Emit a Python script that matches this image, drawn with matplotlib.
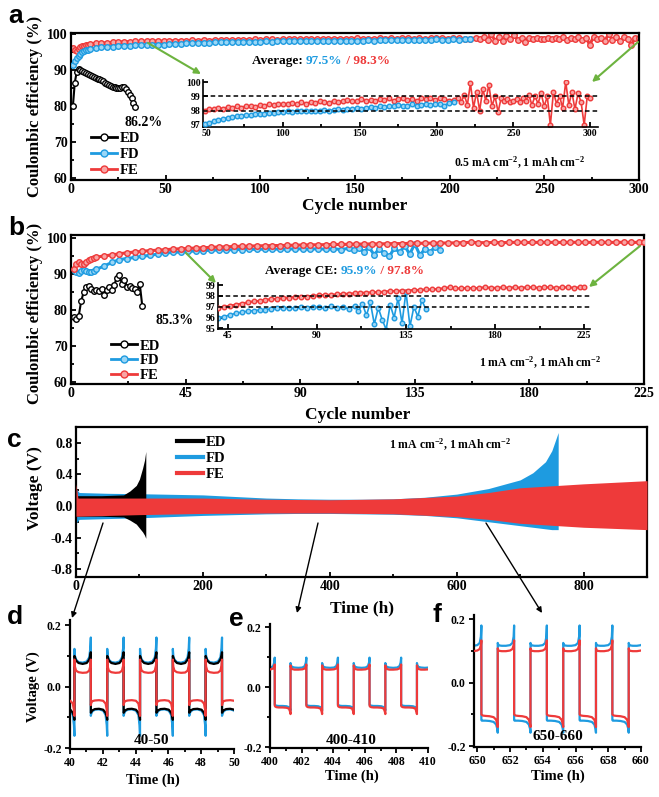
import matplotlib
matplotlib.use('Agg')
import matplotlib.pyplot as plt
from matplotlib.ticker import MultipleLocator
from matplotlib.patches import FancyArrowPatch
from matplotlib.lines import Line2D

plt.rcParams.update({
    'font.family': ['Liberation Serif', 'DejaVu Serif'],
    'font.weight': 'bold',
    'axes.labelweight': 'bold',
    'mathtext.fontset': 'custom',
    'mathtext.rm': 'Liberation Serif:bold',
    'mathtext.it': 'Liberation Serif:bold',
    'mathtext.bf': 'Liberation Serif:bold',
    'mathtext.default': 'rm',
    'axes.unicode_minus': False,
})

# ---------------- data: panel a (0.5 mA cm-2) ----------------
a_ed_cyc = list(range(1, 35))
a_ed = [80.0, 86.5, 89.5, 90.3, 90.0, 89.8, 89.5, 89.2, 89.0, 88.6,
        88.3, 88.0, 87.8, 87.6, 87.5, 87.2, 86.9, 86.5, 86.2, 86.0,
        85.7, 85.4, 85.2, 85.1, 85.0, 85.1, 85.3, 85.2, 84.8, 84.0,
        83.2, 82.2, 81.0, 79.7]

a_fd_cyc = list(range(1, 11)) + list(range(13, 212, 3))
a_fd = [91.5, 92.5, 93.3, 94.0, 94.5, 94.9, 95.2, 95.5, 95.7, 95.9,
        96.1, 96.3, 96.4, 96.55, 96.65, 96.75, 96.8, 96.85, 96.9, 96.92,
        96.95, 97.0, 97.05, 97.15, 97.25, 97.35, 97.45, 97.5, 97.55, 97.6,
        97.65, 97.7, 97.7, 97.75, 97.8, 97.8, 97.85, 97.85, 97.9, 97.9,
        97.95, 97.9, 97.95, 98.0, 97.95, 98.0, 97.95, 98.0, 98.05, 98.0,
        98.05, 98.1, 98.05, 98.15, 98.1, 98.2, 98.15, 98.2, 98.25, 98.2,
        98.3, 98.25, 98.35, 98.3, 98.4, 98.35, 98.3, 98.45, 98.35, 98.4,
        98.5, 98.4, 98.45, 98.5, 98.35, 98.55, 98.6]

a_fe_cyc = list(range(1, 11)) + list(range(13, 212, 3)) + list(range(214, 301, 2))
a_fe = [96.2, 95.5, 95.3, 95.8, 96.3, 96.6, 96.8, 97.0, 97.1, 97.2,
        97.4, 97.5, 97.6, 97.7, 97.8, 97.85, 97.9, 97.95, 98.0, 98.0,
        98.05, 98.1, 98.0, 98.15, 98.1, 98.2, 98.15, 98.25, 98.2, 98.3,
        98.2, 98.35, 98.3, 98.25, 98.4, 98.35, 98.45, 98.4, 98.5, 98.45,
        98.5, 98.55, 98.45, 98.6, 98.5, 98.6, 98.55, 98.65, 98.6, 98.55,
        98.7, 98.6, 98.7, 98.75, 98.65, 98.7, 98.8, 98.7, 98.75, 98.65,
        98.8, 98.75, 98.85, 98.7, 98.8, 98.9, 98.75, 98.8, 98.7, 98.85,
        98.8, 98.9, 98.75, 98.85, 98.8, 98.7, 98.75,
        98.9, 98.6, 99.1, 98.4, 99.9, 98.2, 99.3, 98.0, 99.5, 98.7,
        99.8, 98.3, 99.0, 97.9, 98.9, 98.7, 98.8, 98.6, 98.7, 98.8,
        98.6, 98.9, 98.7, 99.1, 98.4, 99.0, 98.5, 99.2, 98.3, 99.0,
        97.0, 99.3, 98.5, 99.0, 98.2, 100.0, 98.4, 99.3, 98.1, 99.2,
        98.6, 97.0, 99.0, 98.9]

# ---------------- data: panel b (1 mA cm-2) ----------------
b_ed_cyc = list(range(1, 29))
b_ed = [78.0, 77.5, 78.2, 82.5, 85.0, 86.5, 86.8, 85.8, 85.3, 85.5,
        85.2, 85.9, 84.3, 85.6, 86.3, 85.5, 87.0, 89.0, 89.8, 87.2,
        88.3, 86.5, 86.8, 86.0, 85.8, 85.0, 87.3, 81.0]

b_fd_cyc = list(range(1, 11)) + list(range(13, 110, 3)) + list(range(111, 146, 2))
b_fd = [91.0, 90.6, 90.3, 90.8, 91.2, 90.9, 90.6, 90.5, 90.9, 91.3,
        92.2, 93.2, 94.0, 94.3, 94.6, 94.9, 95.2, 95.5, 95.8, 96.0,
        96.1, 96.25, 96.4, 96.5, 96.6, 96.65, 96.7, 96.75, 96.8, 96.85,
        96.85, 96.9, 96.85, 96.95, 96.9, 97.0, 96.95, 96.85, 97.05, 96.85,
        97.0, 96.8, 97.1,
        96.6, 97.3, 96.2, 97.4, 95.4, 96.9, 95.8, 94.9, 97.2, 96.0,
        97.8, 95.5, 98.4, 95.2, 97.0, 96.1, 97.6, 96.8]

b_fe_cyc = list(range(1, 11)) + list(range(13, 224, 3)) + [225]
b_fe = [91.5, 92.8, 93.2, 92.8, 92.9, 93.4, 93.8, 94.1, 94.4, 94.7,
        95.0, 95.3, 95.6, 95.9, 96.1, 96.3, 96.5, 96.6, 96.75, 96.9,
        97.0, 97.1, 97.2, 97.3, 97.4, 97.5, 97.55, 97.65, 97.7, 97.75,
        97.8, 97.85, 97.9, 97.9, 97.95, 98.0, 98.05, 98.1, 98.1, 98.15,
        98.2, 98.2, 98.25, 98.3, 98.3, 98.35, 98.35, 98.4, 98.45, 98.45,
        98.5, 98.5, 98.55, 98.55, 98.6, 98.6, 98.65, 98.7, 98.8, 98.7,
        98.7, 98.75, 98.7, 98.75, 98.8, 98.75, 98.75, 98.8, 98.75, 98.8,
        98.75, 98.8, 98.8, 98.75, 98.8, 98.8, 98.75, 98.8, 98.8, 98.75,
        98.8, 98.8]

# ---------------- data: panel c (voltage envelopes) ----------------
c_ed_t = [0, 40, 75, 85, 95, 100, 105, 108, 110]
c_ed_up = [0.13, 0.13, 0.14, 0.19, 0.26, 0.34, 0.48, 0.58, 0.69]
c_ed_lo = [-0.13, -0.13, -0.14, -0.18, -0.23, -0.28, -0.33, -0.37, -0.41]
c_fd_t = [0, 5, 50, 100, 200, 250, 300, 350, 400, 450, 500, 550, 600, 650, 700, 720, 740, 750, 760]
c_fd_up = [0.22, 0.17, 0.16, 0.155, 0.14, 0.12, 0.10, 0.09, 0.085, 0.085, 0.09, 0.11, 0.15, 0.22, 0.33, 0.42, 0.56, 0.70, 0.93]
c_fd_lo = [-0.22, -0.17, -0.16, -0.15, -0.12, -0.11, -0.10, -0.095, -0.095, -0.10, -0.105, -0.12, -0.15, -0.20, -0.25, -0.27, -0.29, -0.30, -0.30]
c_fe_t = [0, 3, 100, 200, 300, 400, 500, 600, 650, 700, 800, 900]
c_fe_up = [0.28, 0.10, 0.10, 0.10, 0.085, 0.078, 0.09, 0.125, 0.17, 0.23, 0.28, 0.32]
c_fe_lo = [-0.13, -0.13, -0.11, -0.095, -0.09, -0.09, -0.10, -0.135, -0.17, -0.22, -0.27, -0.30]

# ---------------- data: panels d/e/f (one half-cycle profile, read per panel) ----------------
half_frac = [0, 0.03, 0.1, 0.25, 0.5, 0.75, 0.9, 0.97, 1.0]
d_edges = [39.27, 40.27, 41.27, 42.27, 43.27, 44.27, 45.27, 46.27, 47.27, 48.27, 49.27, 50.27]
d_first = 'neg'
d_ed_pos = [0.100, 0.095, 0.085, 0.077, 0.074, 0.077, 0.088, 0.102, 0.112]
d_ed_neg = [-0.085, -0.082, -0.077, -0.073, -0.072, -0.075, -0.085, -0.098, -0.108]
d_fd_pos = [0.123, 0.100, 0.088, 0.080, 0.078, 0.082, 0.095, 0.125, 0.160]
d_fd_neg = [-0.095, -0.088, -0.080, -0.075, -0.074, -0.078, -0.092, -0.125, -0.160]
d_fe_pos = [0.088, 0.065, 0.052, 0.047, 0.045, 0.046, 0.052, 0.068, 0.088]
d_fe_neg = [-0.060, -0.052, -0.047, -0.045, -0.044, -0.046, -0.055, -0.075, -0.095]

e_edges = [399.3, 400.3, 401.3, 402.3, 403.3, 404.3, 405.3, 406.3, 407.3, 408.3, 409.3, 410.3]
e_first = 'pos'
e_fd_pos = [0.080, 0.072, 0.067, 0.065, 0.064, 0.065, 0.070, 0.082, 0.098]
e_fd_neg = [-0.058, -0.060, -0.062, -0.063, -0.063, -0.064, -0.067, -0.072, -0.078]
e_fe_pos = [0.072, 0.065, 0.060, 0.058, 0.058, 0.059, 0.062, 0.068, 0.075]
e_fe_neg = [-0.062, -0.065, -0.067, -0.068, -0.068, -0.069, -0.072, -0.082, -0.090]

f_edges = [649.25, 650.25, 651.25, 652.25, 653.25, 654.25, 655.25, 656.25, 657.25, 658.25, 659.25, 660.25]
f_first = 'pos'
f_fd_pos = [0.125, 0.120, 0.117, 0.116, 0.116, 0.118, 0.125, 0.145, 0.180]
f_fd_neg = [-0.118, -0.120, -0.120, -0.120, -0.121, -0.124, -0.132, -0.145, -0.158]
f_fe_pos = [0.108, 0.102, 0.100, 0.099, 0.099, 0.101, 0.106, 0.118, 0.133]
f_fe_neg = [-0.100, -0.102, -0.104, -0.105, -0.106, -0.109, -0.117, -0.130, -0.140]

series_names = ['ED', 'FD', 'FE']

# ---------------- styles ----------------
BLACK = '#000000'
BLUE = '#1E9BE0'
BLUE_L = '#9AD6F6'
RED = '#EE3A3A'
RED_L = '#F8A5A5'
GREEN = '#6DB33F'

W, H = 659, 797
fig = plt.figure(figsize=(W / 100, H / 100), dpi=100)


def box(l, t, r, b):
    return [l / W, 1 - b / H, (r - l) / W, (b - t) / H]


def fpt(x, y):
    return (x / W, 1 - y / H)


def style(ax, xmaj, xmin, ymaj, ymin, lsize=10, spw=1.6, inset=False, direction='in'):
    for s in ['top', 'right', 'left', 'bottom']:
        ax.spines[s].set_linewidth(spw)
    if inset:
        ax.spines['top'].set_visible(False)
        ax.spines['right'].set_visible(False)
    ax.xaxis.set_major_locator(MultipleLocator(xmaj))
    ax.yaxis.set_major_locator(MultipleLocator(ymaj))
    if xmin:
        ax.xaxis.set_minor_locator(MultipleLocator(xmin))
    if ymin:
        ax.yaxis.set_minor_locator(MultipleLocator(ymin))
    ax.tick_params(which='both', direction=direction, top=False, right=False,
                   width=1.3, labelsize=lsize, pad=2.5)
    ax.tick_params(which='major', length=3.5)
    ax.tick_params(which='minor', length=2)


def mk(color, face, ms=4.0, lw=2.2):
    return dict(color=color, marker='o', mfc=face, mec=color, ms=ms, mew=1.0, lw=lw)


def build(edges, first, pos, neg):
    t, v = [], []
    sign = first
    for i in range(len(edges) - 1):
        t0, t1 = edges[i], edges[i + 1]
        shape = pos if sign == 'pos' else neg
        for fr, s in zip(half_frac, shape):
            t.append(t0 + fr * (t1 - t0))
            v.append(s)
        sign = 'neg' if sign == 'pos' else 'pos'
    return t, v


renderer = fig.canvas.get_renderer()


def colored_text(x, y_center, parts, fs):
    base = y_center + 0.32 * fs * 100 / 72
    full = ''
    bar = fig.text(0, 0, '|', fontsize=fs)
    wbar = bar.get_window_extent(renderer).width
    bar.remove()
    for s, c in parts:
        off = 0
        if full:
            tt = fig.text(0, 0, full + '|', fontsize=fs)
            off = tt.get_window_extent(renderer).width - wbar
            tt.remove()
        fig.text((x + off) / W, 1 - base / H, s, color=c, fontsize=fs,
                 ha='left', va='baseline')
        full += s


def legend_handles(kind, ms=5):
    if kind == 'marker':
        return [Line2D([], [], **mk(BLACK, 'white', ms, 2)),
                Line2D([], [], **mk(BLUE, BLUE_L, ms, 2)),
                Line2D([], [], **mk(RED, RED_L, ms, 2))]
    return [Line2D([], [], color=BLACK, lw=3),
            Line2D([], [], color=BLUE, lw=3),
            Line2D([], [], color=RED, lw=3)]


# ---------------- panel a ----------------
axA = fig.add_axes(box(71, 33, 639, 180))
axA.plot(a_fe_cyc, a_fe, zorder=2, **mk(RED, RED_L))
axA.plot(a_fd_cyc, a_fd, zorder=3, **mk(BLUE, BLUE_L))
axA.plot(a_ed_cyc, a_ed, zorder=4, **mk(BLACK, 'white', 4.0, 1.5))
axA.set_xlim(0, 300)
axA.set_ylim(59.5, 100.3)
style(axA, 50, 25, 10, 5)
axA.legend(legend_handles('marker'), series_names, loc='upper left',
           bbox_to_anchor=(0.035, 0.33), frameon=False, fontsize=10.5,
           handlelength=1.8, handletextpad=0.15, labelspacing=0.2,
           borderpad=0, borderaxespad=0, numpoints=1)

axAi = fig.add_axes(box(203, 80, 598, 127))
axAi.patch.set_alpha(0)
axAi.plot(a_fe_cyc, a_fe, zorder=2, **mk(RED, RED_L, 3.3, 1.2))
axAi.plot(a_fd_cyc, a_fd, zorder=3, **mk(BLUE, BLUE_L, 3.3, 1.2))
axAi.axhline(98, color='k', lw=1.1, ls=(0, (3, 2)), zorder=4)
axAi.axhline(99, color='k', lw=1.1, ls=(0, (3, 2)), zorder=4)
axAi.set_xlim(48, 305)
axAi.set_ylim(96.86, 100.14)
style(axAi, 50, 25, 1, None, lsize=7, spw=1.2, inset=True)
axAi.tick_params(which='both', pad=1.5)

# ---------------- panel b ----------------
axB = fig.add_axes(box(71, 235, 644, 384))
axB.plot(b_fd_cyc, b_fd, zorder=2, **mk(BLUE, BLUE_L))
axB.plot(b_fe_cyc, b_fe, zorder=3, **mk(RED, RED_L))
axB.plot(b_ed_cyc, b_ed, zorder=4, **mk(BLACK, 'white', 4.0, 1.5))
axB.set_xlim(0, 225)
axB.set_ylim(59.44, 100.83)
style(axB, 45, 22.5, 10, 5)
axB.legend(legend_handles('marker'), series_names, loc='upper left',
           bbox_to_anchor=(0.07, 0.30), frameon=False, fontsize=10.5,
           handlelength=1.8, handletextpad=0.15, labelspacing=0.12,
           borderpad=0, borderaxespad=0, numpoints=1)

axBi = fig.add_axes(box(218, 283, 590, 329))
axBi.patch.set_alpha(0)
axBi.plot(b_fd_cyc, b_fd, zorder=2, **mk(BLUE, BLUE_L, 3.3, 1.2))
axBi.plot(b_fe_cyc, b_fe, zorder=3, **mk(RED, RED_L, 3.3, 1.6))
axBi.axhline(97, color='k', lw=1.1, ls=(0, (3, 2)), zorder=4)
axBi.axhline(98, color='k', lw=1.1, ls=(0, (3, 2)), zorder=4)
axBi.set_xlim(40, 228)
axBi.set_ylim(94.95, 99.2)
style(axBi, 45, 22.5, 1, None, lsize=7, spw=1.2, inset=True)
axBi.tick_params(which='both', pad=1.5)

# ---------------- panel c ----------------
axC = fig.add_axes(box(76, 427, 647, 577))
axC.fill_between(c_fd_t, c_fd_lo, c_fd_up, color=BLUE, lw=0, zorder=2)
axC.fill_between(c_ed_t, c_ed_lo, c_ed_up, color=BLACK, lw=0, zorder=3)
axC.fill_between(c_fe_t, c_fe_lo, c_fe_up, color=RED, lw=0, zorder=4)
axC.set_xlim(0, 900)
axC.set_ylim(-0.9, 1.0)
style(axC, 200, 100, 0.4, 0.2)
axC.legend(legend_handles('line'), series_names, loc='upper left',
           bbox_to_anchor=(0.177, 0.94), frameon=False, fontsize=10.5,
           handlelength=1.8, handletextpad=0.2, labelspacing=0.2,
           borderpad=0, borderaxespad=0)

# ---------------- panels d, e, f ----------------
axD = fig.add_axes(box(70, 620, 234, 749))
for pos, neg, col, z in [(d_fd_pos, d_fd_neg, BLUE, 2), (d_ed_pos, d_ed_neg, BLACK, 3),
                         (d_fe_pos, d_fe_neg, RED, 4)]:
    t, v = build(d_edges, d_first, pos, neg)
    axD.plot(t, v, color=col, lw=1.6, zorder=z)
axD.set_xlim(40, 50)
axD.set_ylim(-0.203, 0.217)

axE = fig.add_axes(box(270, 624, 428, 748))
for pos, neg, col, z in [(e_fd_pos, e_fd_neg, BLUE, 2), (e_fe_pos, e_fe_neg, RED, 4)]:
    t, v = build(e_edges, e_first, pos, neg)
    axE.plot(t, v, color=col, lw=1.6, zorder=z)
axE.set_xlim(400, 410)
axE.set_ylim(-0.203, 0.21)

axF = fig.add_axes(box(474, 615, 641, 747))
for pos, neg, col, z in [(f_fd_pos, f_fd_neg, BLUE, 2), (f_fe_pos, f_fe_neg, RED, 4)]:
    t, v = build(f_edges, f_first, pos, neg)
    axF.plot(t, v, color=col, lw=1.6, zorder=z)
axF.set_xlim(649.8, 660)
axF.set_ylim(-0.203, 0.213)

for ax in (axD, axE, axF):
    style(ax, 2, 1, 0.2, 0.1, lsize=8.5, spw=1.6, inset=True, direction='out')
    ax.patch.set_alpha(0)

# ---------------- labels and texts ----------------
lab = dict(ha='center', va='center')
fig.text(*fpt(35, 106), 'Coulombic efficiency (%)', rotation=90, fontsize=12, **lab)
fig.text(*fpt(35, 313), 'Coulombic efficiency (%)', rotation=90, fontsize=12, **lab)
fig.text(*fpt(355, 206), 'Cycle number', fontsize=12.5, **lab)
fig.text(*fpt(358, 415), 'Cycle number', fontsize=12.5, **lab)
fig.text(*fpt(35, 488), 'Voltage (V)', rotation=90, fontsize=12.5, **lab)
fig.text(*fpt(362, 608), 'Time (h)', fontsize=12.5, **lab)
fig.text(*fpt(33, 687), 'Voltage (V)', rotation=90, fontsize=10.5, **lab)
fig.text(*fpt(153, 780), 'Time (h)', fontsize=10.5, **lab)
fig.text(*fpt(352, 776), 'Time (h)', fontsize=10.5, **lab)
fig.text(*fpt(558, 776), 'Time (h)', fontsize=10.5, **lab)
fig.text(*fpt(151, 740), '40-50', fontsize=11, **lab)
fig.text(*fpt(351, 740), '400-410', fontsize=11, **lab)
fig.text(*fpt(558, 737), '650-660', fontsize=11, **lab)

fig.text(*fpt(144, 122), '86.2%', fontsize=10, **lab)
fig.text(*fpt(175, 320), '85.3%', fontsize=10, **lab)
fig.text(*fpt(520, 163), r'0.5 mA cm$^{-2}$, 1 mAh cm$^{-2}$', fontsize=8.5, **lab)
fig.text(*fpt(540, 363), r'1 mA cm$^{-2}$, 1 mAh cm$^{-2}$', fontsize=8.5, **lab)
fig.text(*fpt(450, 445), r'1 mA cm$^{-2}$, 1 mAh cm$^{-2}$', fontsize=8.5, **lab)

colored_text(252, 60, [('Average: ', BLACK), ('97.5%', BLUE), (' / 98.3%', RED)], 9.5)
colored_text(265, 270, [('Average CE: ', BLACK), ('95.9%', BLUE), (' / 97.8%', RED)], 9.5)

pl = dict(fontsize=19, fontfamily='Liberation Sans', fontweight='bold', ha='center', va='center')
fig.text(*fpt(16, 16), 'a', **pl)
fig.text(*fpt(16, 228), 'b', **pl)
fig.text(*fpt(14, 440), 'c', **pl)
fig.text(*fpt(15, 617), 'd', **pl)
fig.text(*fpt(236, 619), 'e', **pl)
fig.text(*fpt(437, 615), 'f', **pl)

# ---------------- arrows ----------------
def arrow(p0, p1, color, lw, ms):
    fig.add_artist(FancyArrowPatch(fpt(*p0), fpt(*p1), transform=fig.transFigure,
                                   arrowstyle='-|>', mutation_scale=ms, color=color,
                                   lw=lw, shrinkA=0, shrinkB=0, zorder=10))

arrow((148, 43), (201, 74), GREEN, 1.5, 9)
arrow((638, 42), (592, 82), GREEN, 1.5, 9)
arrow((186, 253), (216, 283), GREEN, 1.5, 9)
arrow((640, 246), (589, 287), GREEN, 1.5, 9)
arrow((103, 523), (72, 618), BLACK, 1.0, 8)
arrow((318, 523), (297, 613), BLACK, 1.0, 8)
arrow((486, 523), (542, 613), BLACK, 1.0, 8)

fig.savefig('out.png', dpi=100)
